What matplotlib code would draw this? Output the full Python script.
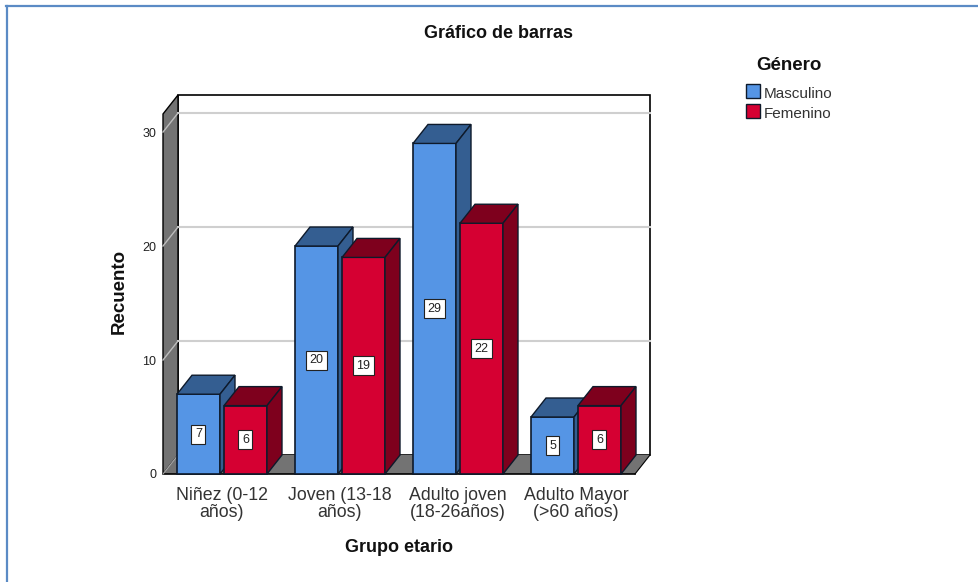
import matplotlib
matplotlib.use("Agg")
import matplotlib.pyplot as plt
from matplotlib.patches import Polygon, Rectangle
from matplotlib.lines import Line2D

plt.rcParams['font.family'] = ['Liberation Sans', 'DejaVu Sans']

# ---------- DATA ----------
categorias = ["Niñez (0-12\naños)", "Joven (13-18\naños)", "Adulto joven\n(18-26años)", "Adulto Mayor\n(>60 años)"]
masculino = [7, 20, 29, 5]
femenino = [6, 19, 22, 6]
ticks_y = [0, 10, 20, 30]

# ---------- STYLE ----------
W, H = 979, 582
AZUL = ("#5595E5", "#345E91")
ROJO = ("#D50032", "#7E001D")
GRIS = "#737373"
BORDE = "#0E1A2B"

# depth of the 3D effect in data units
DX = 15 / 118
DY = 19 / 11.4
ANCHO = 43 / 118
OFFSET = 47 / 118 / 2

fig = plt.figure(figsize=(W / 100, H / 100), dpi=100, facecolor="white")

# axes box in pixels: x 163-650, y 95-474
ax = fig.add_axes([163 / W, 1 - 474 / H, (650 - 163) / W, (474 - 95) / H])
ax.set_xlim(-0.5, 3.5 + DX)
ax.set_ylim(0, 30 + 3.25)
ax.patch.set_visible(False)
for s in ax.spines.values():
    s.set_visible(False)

XMIN, XMAX = -0.5, 3.5
YTOP = 30 + 3.25 - DY


def poly(pts, color, ec="black", lw=1.0, z=1):
    ax.add_patch(Polygon(pts, closed=True, facecolor=color, edgecolor=ec, linewidth=lw,
                         zorder=z, clip_on=False, joinstyle="miter"))


# back wall, left wall, floor
poly([(XMIN + DX, DY), (XMAX + DX, DY), (XMAX + DX, YTOP + DY), (XMIN + DX, YTOP + DY)], "white", lw=1.2)
poly([(XMIN, 0), (XMIN + DX, DY), (XMIN + DX, YTOP + DY), (XMIN, YTOP)], GRIS, lw=1.0)
poly([(XMIN, 0), (XMAX, 0), (XMAX + DX, DY), (XMIN + DX, DY)], GRIS, ec="none", z=1)
ax.plot([XMAX, XMAX + DX], [0, DY], color="black", lw=0.8, zorder=1.5, clip_on=False)
ax.plot([XMIN, XMAX], [0, 0], color="black", lw=1.2, zorder=1.5, clip_on=False)
ax.plot([XMIN, XMIN + DX], [0, DY], color="#A8A8A8", lw=0.8, zorder=1.6, clip_on=False)

# grid on back wall and side wall
for t in ticks_y[1:]:
    ax.plot([XMIN + DX, XMAX + DX], [t + DY, t + DY], color="#CFCFCF", lw=1.5, zorder=1.2, clip_on=False)
    ax.plot([XMIN, XMIN + DX], [t, t + DY], color="#BDBDBD", lw=1.0, zorder=1.2, clip_on=False)


def barra(x, v, colores, z):
    izq, der = x - ANCHO / 2, x + ANCHO / 2
    poly([(izq, 0), (der, 0), (der, v), (izq, v)], colores[0], ec=BORDE, lw=1.2, z=z)
    poly([(izq, v), (der, v), (der + DX, v + DY), (izq + DX, v + DY)], colores[1], ec=BORDE, lw=1.0, z=z)
    poly([(der, 0), (der + DX, DY), (der + DX, v + DY), (der, v)], colores[1], ec=BORDE, lw=1.0, z=z)
    ax.text(x, v / 2, str(v), ha="center", va="center", fontsize=9, color="#222222", zorder=z + 0.5,
            bbox=dict(boxstyle="square,pad=0.28", facecolor="white", edgecolor="#222222", linewidth=0.8))


for i in range(len(categorias)):
    barra(i - OFFSET, masculino[i], AZUL, 3 + i * 2)
    barra(i + OFFSET, femenino[i], ROJO, 4 + i * 2)

ax.set_xticks(range(len(categorias)))
ax.set_xticklabels(categorias, fontsize=12.75, linespacing=1.05, color="#333333")
ax.set_yticks(ticks_y)
ax.set_yticklabels([str(t) for t in ticks_y], fontsize=9, color="#222222")
ax.tick_params(axis="x", length=0, pad=9)
ax.tick_params(axis="y", length=0, pad=5)


def fx(x):
    return x / W


def fy(y):
    return 1 - y / H


# ---------- TEXT ----------
fig.text(fx(498.5), fy(33), "Gráfico de barras", ha="center", va="center", fontsize=13, fontweight="bold", color="#111111")
fig.text(fx(399), fy(548), "Grupo etario", ha="center", va="center", fontsize=13, fontweight="bold", color="#111111")
fig.text(fx(119), fy(291), "Recuento", ha="center", va="center", rotation=90, fontsize=13.5, fontweight="bold", color="#111111")
fig.text(fx(789), fy(65), "Género", ha="center", va="center", fontsize=13.5, fontweight="bold", color="#111111")

# ---------- LEGEND ----------
for y0, color, nombre in [(84, AZUL[0], "Masculino"), (104, ROJO[0], "Femenino")]:
    fig.add_artist(Rectangle((fx(746), fy(y0 + 14)), 14 / W, 14 / H, transform=fig.transFigure,
                             facecolor=color, edgecolor=BORDE, linewidth=1.0))
    fig.text(fx(764), fy(y0 + 9.5), nombre, ha="left", va="center", fontsize=11, color="#333333")

# ---------- FRAME ----------
MARCO = "#5B8BC5"
fig.add_artist(Line2D([fx(7), fx(7)], [fy(6), 0], transform=fig.transFigure, color=MARCO, lw=1.6))
fig.add_artist(Line2D([fx(6), 1], [fy(6), fy(6)], transform=fig.transFigure, color=MARCO, lw=1.6))

fig.savefig("out.png", dpi=100)
plt.close(fig)
